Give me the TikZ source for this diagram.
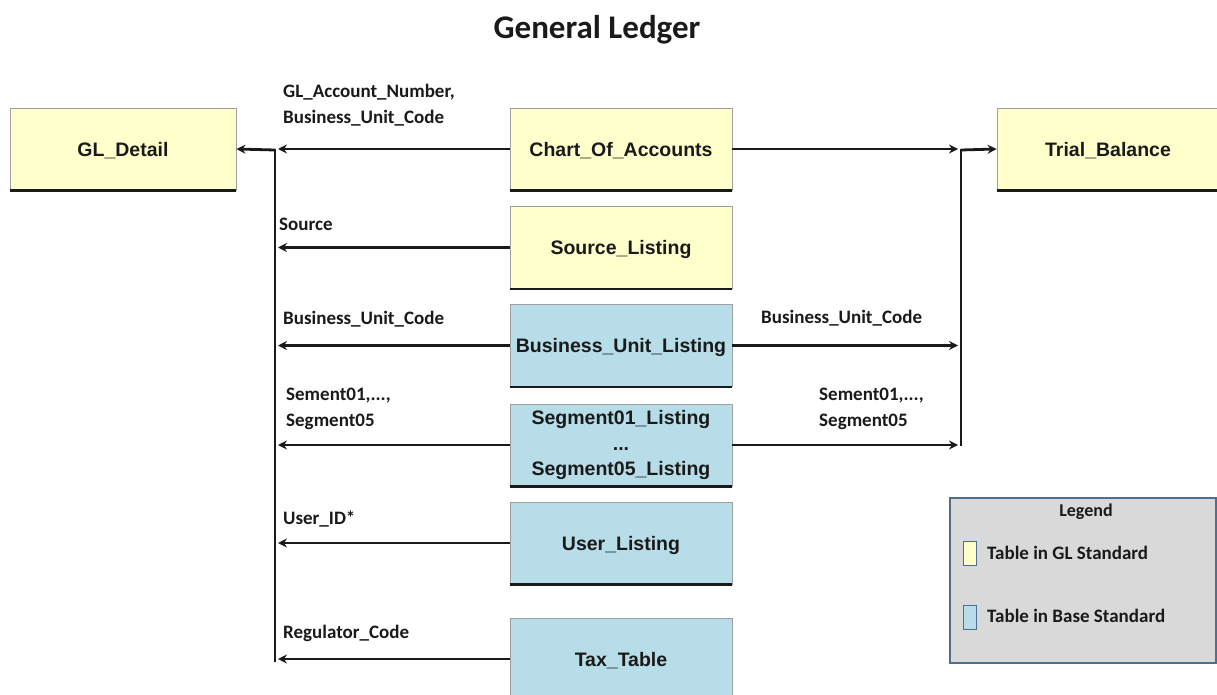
\documentclass[tikz,border=0pt]{standalone}
\usepackage{fontspec}
\setmainfont{Liberation Sans}
\newfontfamily\calfont{Carlito}
\usetikzlibrary{arrows.meta}
\definecolor{gly}{HTML}{FFFFCC}
\definecolor{blu}{HTML}{B7DDE8}
\definecolor{lgd}{HTML}{D9D9D9}
\definecolor{lgb}{HTML}{4F6D8F}
\definecolor{ink}{HTML}{1A1A1A}
\begin{document}
\begin{tikzpicture}[x=1pt,y=-1pt,
  tbl/.style={draw=gray!75, line width=0.8pt, minimum width=222pt, minimum height=82pt,
    inner sep=0pt, align=center, text=ink, font=\bfseries\fontsize{19.5}{25.5}\selectfont},
  gl/.style={tbl, fill=gly},
  base/.style={tbl, fill=blu},
  one/.style={text depth=0pt},
  lbl/.style={font=\calfont\bfseries\fontsize{19}{26}\selectfont, text=ink, align=left, anchor=west, inner sep=0pt},
  con/.style={line width=2.8pt, draw=ink, -{Stealth[length=9pt,width=9pt]}},
  busline/.style={line width=2.8pt, draw=ink, line cap=rect},
  shade/.style={line width=2.8pt, draw=ink}]
\clip (0,0) rectangle (1217,695);
\fill[white] (0,0) rectangle (1217,695);

% title
\node[font=\calfont\bfseries\fontsize{33}{38}\selectfont, text=ink] (title) at (597,30) {General Ledger};

% tables
\node[gl, one, minimum width=226pt] (gld) at (123,149) {GL\_Detail};
\node[gl, one] (coa) at (621,149) {Chart\_Of\_Accounts};
\node[gl, one] (tb) at (1108,149) {Trial\_Balance};
\node[gl, one] (src) at (621,247.5) {Source\_Listing};
\node[base, one] (bul) at (621,345.5) {Business\_Unit\_Listing};
\node[base] (seg) at (621,445) {Segment01\_Listing\\...\\Segment05\_Listing};
\node[base, one] (usr) at (621,543) {User\_Listing};
\node[base, one] (tax) at (621,659) {Tax\_Table};

\foreach \n in {gld,coa,tb,src,bul,seg,usr,tax}
  \draw[shade] (\n.south west) -- (\n.south east);

% bus coordinates
\coordinate (lt) at (275,150);
\coordinate (lb) at (275,661);
\coordinate (rt) at (961,150);
\coordinate (rb) at (961,445);
\coordinate (la) at (278,0);
\coordinate (ra) at (958,0);

\draw[busline] (lt) -- (lb);
\draw[busline] (rt) -- (rb);

% left connectors
\draw[con] (coa.west) -- (coa.west -| la);
\draw[con] (lt) -- (gld.east);
\draw[con] (src.west) -- (src.west -| la);
\draw[con] (bul.west) -- (bul.west -| la);
\draw[con] (seg.west) -- (seg.west -| la);
\draw[con] (usr.west) -- (usr.west -| la);
\draw[con] (tax.west) -- (tax.west -| la);

% right connectors
\draw[con] (coa.east) -- (coa.east -| ra);
\draw[con] (rt) -- (tb.west);
\draw[con] (bul.east) -- (bul.east -| ra);
\draw[con] (seg.east) -- (seg.east -| ra);

% labels
\node[lbl] (l1) at (283,105) {GL\_Account\_Number,\\Business\_Unit\_Code};
\node[lbl] (l2) at (279,224) {Source};
\node[lbl] (l3) at (283,319) {Business\_Unit\_Code};
\node[lbl] (l4) at (286,409) {Sement01,...,\\Segment05};
\node[lbl] (l5) at (283,519) {User\_ID*};
\node[lbl] (l6) at (283,633) {Regulator\_Code};
\node[lbl] (r1) at (761,318) {Business\_Unit\_Code};
\node[lbl] (r2) at (819,409) {Sement01,...,\\Segment05};

% legend
\node[draw=lgb, line width=2pt, fill=lgd, minimum width=266pt, minimum height=165pt, anchor=north west, inner sep=0pt] (leg) at (949,497) {};
\node[font=\calfont\bfseries\fontsize{18}{22}\selectfont, text=ink] (legt) at (1086,512) {Legend};
\node[draw=lgb, line width=1.6pt, fill=gly, minimum width=13pt, minimum height=24pt, inner sep=0pt] (sq1) at (970,553.5) {};
\node[draw=lgb, line width=1.6pt, fill=blu, minimum width=13pt, minimum height=24pt, inner sep=0pt] (sq2) at (970,617.5) {};
\node[lbl] (lg1) at (987,553) {Table in GL Standard};
\node[lbl] (lg2) at (987,616) {Table in Base Standard};
\end{tikzpicture}
\end{document}
